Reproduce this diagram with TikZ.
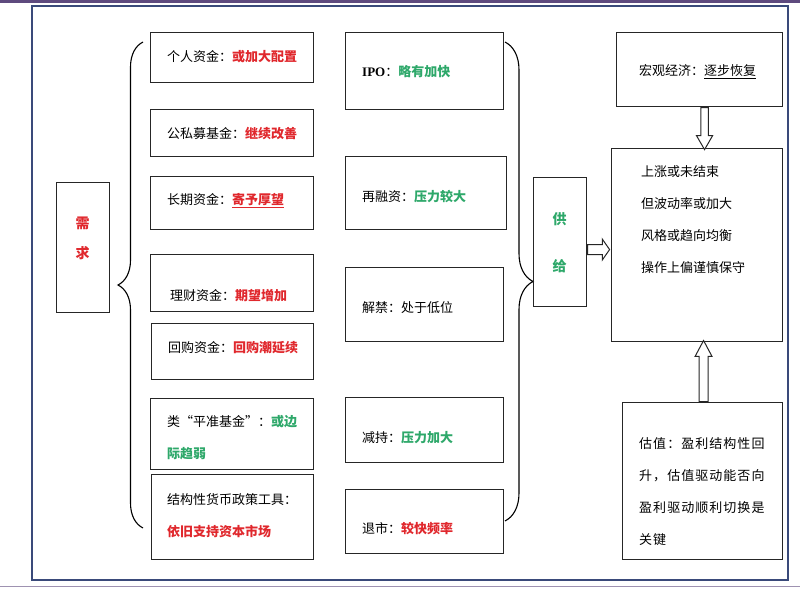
\documentclass[tikz,border=0pt]{standalone}
\usepackage{fontspec}
\setmainfont{Noto Sans CJK SC}
\newfontfamily\fonteipo{Liberation Serif}
\usetikzlibrary{decorations.pathreplacing,shapes.arrows}
\definecolor{vermelho}{HTML}{E0282D}
\definecolor{verde}{HTML}{2EA86A}
\definecolor{roxo}{HTML}{5E4A7E}
\definecolor{moldura}{HTML}{3A4A7A}
\newcommand{\vm}[1]{{\bfseries\color{vermelho}#1}}
\newcommand{\vd}[1]{{\bfseries\color{verde}#1}}

\begin{document}
\begin{tikzpicture}[x=1pt, y=-1pt,
    caixa/.style={draw=black!85, line width=1.1pt, anchor=north west, inner sep=0pt},
    texto/.style={anchor=west, inner sep=0pt, align=left, font=\fontsize{13}{32}\selectfont},
    vertical/.style={inner sep=0pt, align=center, font=\fontsize{14}{#1}\selectfont\bfseries},
    chave/.style={decorate, decoration={brace, amplitude=#1}, line width=1.1pt},
    setaoca/.style={single arrow, draw=black!85, line width=1pt, fill=white, minimum width=0pt}]
    % Moldura
    \useasboundingbox (0,0) rectangle (800,589);
    \fill[roxo] (0,0) rectangle (800,3);
    \draw[roxo!60, line width=1.2pt] (0,586.5) -- (800,586.5);
    \draw[moldura, line width=1.5pt] (32,6) rectangle (788,580);

    % Demanda
    \node[caixa, minimum width=53pt, minimum height=130pt] (xuqiu) at (56,182) {};
    \node[vertical=30pt, text=vermelho] (xuqiu-t) at (82.5,238) {需\\求};
    \draw[chave=25pt] (143,528) -- (143,42);

    % Fontes de capital
    \node[caixa, minimum width=163pt, minimum height=50pt] (geren) at (150,32) {};
    \node[caixa, minimum width=163pt, minimum height=47pt] (gongsimu) at (150,109) {};
    \node[caixa, minimum width=163pt, minimum height=53pt] (changqi) at (150,176) {};
    \node[caixa, minimum width=163pt, minimum height=57pt] (licai) at (150,254) {};
    \node[caixa, minimum width=162pt, minimum height=56pt] (huigou) at (151,323) {};
    \node[caixa, minimum width=163pt, minimum height=71pt] (pingzhun) at (150,398) {};
    \node[caixa, minimum width=162pt, minimum height=85pt] (jiegou) at (151,474) {};

    \node[texto] (geren-t) at (167,57) {个人资金：\vm{或加大配置}};
    \node[texto] (gongsimu-t) at (167,134) {公私募基金：\vm{继续改善}};
    \node[texto] (changqi-t) at (167,201) {长期资金：\vm{\underline{寄予厚望}}};
    \node[texto] (licai-t) at (170,296) {理财资金：\vm{期望增加}};
    \node[texto] (huigou-t) at (168,348) {回购资金：\vm{回购潮延续}};
    \node[texto] (pingzhun-t) at (167,438) {类“平准基金”：\vd{或边}\\\vd{际趋弱}};
    \node[texto] (jiegou-t) at (167,515.5) {结构性货币政策工具：\\\vm{依旧支持资本市场}};

    % Oferta
    \node[caixa, minimum width=158pt, minimum height=77pt] (ipo) at (345,32) {};
    \node[caixa, minimum width=161pt, minimum height=73pt] (zairongzi) at (345,156) {};
    \node[caixa, minimum width=158pt, minimum height=74pt] (jiejin) at (345,267) {};
    \node[caixa, minimum width=158pt, minimum height=65pt] (jianchi) at (345,397) {};
    \node[caixa, minimum width=158pt, minimum height=64pt] (tuishi) at (345,489) {};

    \node[texto] (ipo-t) at (362,72) {{\fonteipo\bfseries IPO}：\vd{略有加快}};
    \node[texto] (zairongzi-t) at (362,197) {再融资：\vd{压力较大}};
    \node[texto] (jiejin-t) at (362,308) {解禁：处于低位};
    \node[texto] (jianchi-t) at (362,438) {减持：\vd{压力加大}};
    \node[texto] (tuishi-t) at (362,529) {退市：\vm{较快频率}};

    \draw[chave=28pt] (505,42) -- (505,521);
    \node[caixa, minimum width=53pt, minimum height=129pt] (gongji) at (533,177) {};
    \node[vertical=47pt, text=verde] (gongji-t) at (559.5,242.5) {供\\给};

    % Mercado
    \node[caixa, minimum width=166pt, minimum height=74pt] (hongguan) at (616,32) {};
    \node[caixa, minimum width=171pt, minimum height=193pt] (shichang) at (611,148) {};
    \node[caixa, minimum width=160pt, minimum height=157pt] (guzhi) at (622,402) {};

    \node[texto] (hongguan-t) at (639,72) {宏观经济：\underline{逐步恢复}};
    \node[texto] (shichang-t) at (641,220) {上涨或未结束\\但波动率或加大\\风格或趋向均衡\\操作上偏谨慎保守};
    \node[texto, font={\fontsize{13}{32}\selectfont\addfontfeatures{LetterSpace=8}}] (guzhi-t) at (639,492)
        {估值：盈利结构性回\\升，估值驱动能否向\\盈利驱动顺利切换是\\关键};

    % Setas
    \node[setaoca, anchor=tail, inner sep=4.5pt, single arrow head extend=5.5pt, minimum height=22pt, single arrow tip angle=110]
        (seta-oferta) at ([yshift=-7.5pt]gongji.east) {};
    \node[setaoca, anchor=tail, shape border rotate=270, inner sep=3.25pt, single arrow head extend=4.25pt, minimum height=42pt, single arrow tip angle=60]
        (seta-macro) at ([xshift=5pt]hongguan.south) {};
    \node[setaoca, anchor=tail, shape border rotate=90, inner sep=4pt, single arrow head extend=4pt, minimum height=61pt, single arrow tip angle=56]
        (seta-valor) at ([xshift=1pt]guzhi.north) {};
\end{tikzpicture}
\end{document}
